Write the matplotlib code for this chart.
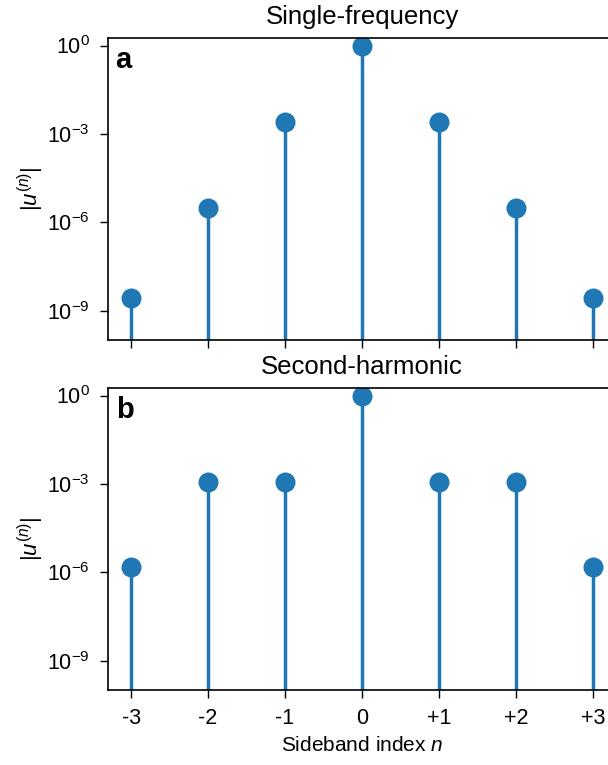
import matplotlib
matplotlib.use('Agg')
import matplotlib.pyplot as plt
from matplotlib.ticker import FixedLocator, NullLocator

plt.rcParams['font.family'] = ['Liberation Sans', 'DejaVu Sans']
plt.rcParams['mathtext.fontset'] = 'custom'
plt.rcParams['mathtext.rm'] = 'Liberation Sans'
plt.rcParams['mathtext.it'] = 'Liberation Sans:italic'
plt.rcParams['mathtext.bf'] = 'Liberation Sans:bold'

# sideband data
sideband_n = [-3, -2, -1, 0, 1, 2, 3]
tick_labels = ['-3', '-2', '-1', '0', '+1', '+2', '+3']
single_freq = [2.6e-9, 3.0e-6, 2.6e-3, 1.0, 2.6e-3, 3.0e-6, 2.6e-9]
second_harm = [1.45e-6, 1.2e-3, 1.2e-3, 1.0, 1.2e-3, 1.2e-3, 1.45e-6]

panels = [('Single-frequency', 'a', single_freq),
          ('Second-harmonic', 'b', second_harm)]

fig = plt.figure(figsize=(6.08, 7.65), dpi=100)
ax_left = 108 / 608
ax_width = 508 / 608
ax_height = 302 / 765
bottoms = [1 - 340 / 765, 1 - 690 / 765]

blue = '#1f77b4'
for i, (title, letter, vals) in enumerate(panels):
    ax = fig.add_axes([ax_left, bottoms[i], ax_width, ax_height])
    ax.set_yscale('log')
    markerline, stemlines, baseline = ax.stem(sideband_n, vals, bottom=1e-13, basefmt=' ')
    plt.setp(markerline, color=blue, markersize=13.4)
    plt.setp(stemlines, color=blue, linewidth=2.5)
    ax.set_ylim(1e-10, 1.8)
    ax.set_xlim(-3.3, 3.3)
    ax.yaxis.set_major_locator(FixedLocator([1e-9, 1e-6, 1e-3, 1]))
    ax.yaxis.set_minor_locator(NullLocator())
    ax.set_xticks(sideband_n)
    ax.tick_params(axis='both', direction='out', length=6, width=1.0,
                   labelsize=15.5, pad=7)
    for sp in ax.spines.values():
        sp.set_linewidth(1.2)
    ax.set_title(title, fontsize=18.5, pad=10)
    ax.set_ylabel(r'$|u^{(n)}|$', fontsize=16, labelpad=1)
    ax.text(0.015, 0.927, letter, transform=ax.transAxes, fontsize=21,
            fontweight='bold', ha='left', va='center')
    if i == 0:
        ax.set_xticklabels([])
    else:
        ax.set_xticklabels(tick_labels)
        ax.set_xlabel(r'Sideband index $n$', fontsize=15, labelpad=5)

plt.savefig('out.png', dpi=100)
